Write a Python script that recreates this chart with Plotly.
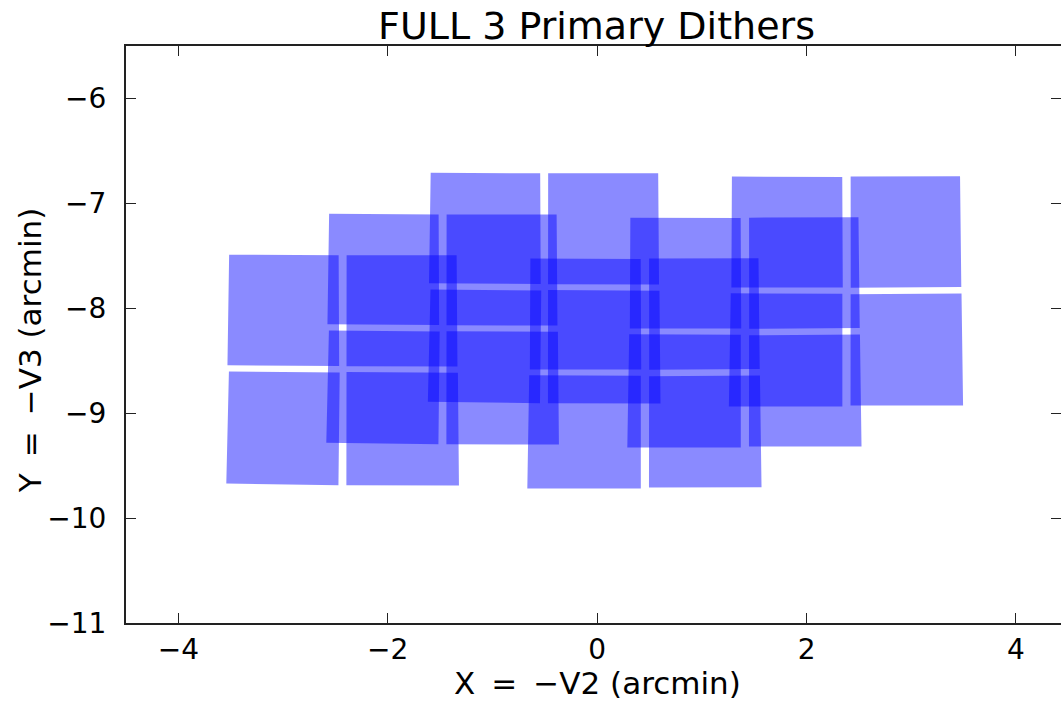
import plotly.graph_objects as go

# ---- data (arcmin) -------------------------------------------------------
# Detector footprints at the first primary dither position.
# Each detector: corners TL, TR, BR, BL (X = -V2, Y = -V3)
detectors = ["c1_top", "c1_bot", "c2_top", "c2_bot",
             "c3_top", "c3_bot", "c4_top", "c4_bot"]
corner_x = [
    [-3.515, -2.469, -2.464, -3.531],
    [-3.517, -2.459, -2.471, -3.542],
    [-2.393, -1.342, -1.334, -2.394],
    [-2.394, -1.330, -1.320, -2.395],
    [-0.638, 0.416, 0.421, -0.643],
    [-0.649, 0.417, 0.417, -0.667],
    [0.496, 1.541, 1.553, 0.497],
    [0.496, 1.555, 1.570, 0.495],
]
corner_y = [
    [-7.489, -7.495, -8.550, -8.543],
    [-8.603, -8.612, -9.686, -9.671],
    [-7.495, -7.495, -8.555, -8.552],
    [-8.608, -8.614, -9.689, -9.686],
    [-7.526, -7.530, -8.583, -8.583],
    [-8.638, -8.643, -9.717, -9.717],
    [-7.526, -7.522, -8.579, -8.586],
    [-8.648, -8.641, -9.707, -9.708],
]
# Primary dither offsets (arcmin)
dither_dx = [0.0, 0.955, 1.925]
dither_dy = [0.0, 0.390, 0.781]

x_ticks = [-4, -2, 0, 2, 4]
x_tick_labels = ["\u22124", "\u22122", "0", "2", "4"]
y_ticks = [-11, -10, -9, -8, -7, -6]
y_tick_labels = ["\u221211", "\u221210", "\u22129", "\u22128", "\u22127", "\u22126"]

title_text = "FULL 3 Primary Dithers"
x_label = "X \u2009=\u2009 \u2212V2 (arcmin)"
y_label = "Y \u2009=\u2009 \u2212V3 (arcmin)"

# ---- figure --------------------------------------------------------------
FONT = "DejaVu Sans"
fig = go.Figure()

for k in range(len(dither_dx)):
    xs, ys = [], []
    for cx, cy in zip(corner_x, corner_y):
        xs += [v + dither_dx[k] for v in cx] + [cx[0] + dither_dx[k], None]
        ys += [v + dither_dy[k] for v in cy] + [cy[0] + dither_dy[k], None]
    fig.add_trace(go.Scatter(
        x=xs, y=ys, mode="lines", fill="toself",
        fillcolor="rgba(0,0,255,0.46)", line=dict(width=0, color="rgba(0,0,255,0)"),
        hoverinfo="skip", showlegend=False, name=f"Dither {k+1}",
    ))

# dummy trace for right-side tick axis
fig.add_trace(go.Scatter(x=[None], y=[None], yaxis="y2", showlegend=False, hoverinfo="skip"))

W, H = 1061, 701
L, R, T, B = 126, 0, 46, 78
px_per_unit = 104.7
x_lo = -4.5
x_hi = x_lo + (W - L - R) / px_per_unit
y_range = [-11, -5.5]

fig.update_layout(
    width=W, height=H,
    margin=dict(l=L, r=R, t=T, b=B),
    plot_bgcolor="white", paper_bgcolor="white",
    font=dict(family=FONT, color="black"),
    xaxis=dict(
        range=[x_lo, x_hi], tickvals=x_ticks, ticktext=x_tick_labels,
        ticks="inside", ticklen=10, tickwidth=1.3, tickcolor="#222",
        showline=True, linewidth=2, linecolor="#222", mirror="ticks",
        showgrid=False, zeroline=False,
        tickfont=dict(family=FONT, size=28, color="black"),
        ticklabelstandoff=0,
    ),
    yaxis=dict(
        range=y_range, tickvals=y_ticks, ticktext=y_tick_labels,
        ticks="inside", ticklen=10, tickwidth=1.3, tickcolor="#222",
        showline=True, linewidth=2, linecolor="#222", mirror=False,
        showgrid=False, zeroline=False,
        tickfont=dict(family=FONT, size=28, color="black"),
        ticklabelstandoff=12,
    ),
    yaxis2=dict(
        range=y_range, tickvals=y_ticks, overlaying="y", side="right", anchor="x",
        ticks="inside", ticklen=10, tickwidth=1.3, tickcolor="#222",
        showline=False, showticklabels=False, showgrid=False, zeroline=False,
    ),
    title=dict(
        text=title_text, x=(596.5 - L) / (W - L - R), xref="paper", xanchor="center",
        y=1 - 26 / H, yref="container", yanchor="middle",
        font=dict(family=FONT, size=38, color="black"),
    ),
    annotations=[
        dict(text=x_label, xref="x", x=0, yref="paper", y=0, yshift=-60,
             xanchor="center", yanchor="middle", showarrow=False,
             font=dict(family=FONT, size=31, color="black")),
        dict(text=y_label, xref="paper", x=0, xshift=-(L - 30), yref="y", y=-8.4,
             xanchor="center", yanchor="middle", textangle=-90, showarrow=False,
             font=dict(family=FONT, size=31, color="black")),
    ],
)

fig.write_html(
    "out.html",
    config={"displayModeBar": False},
    post_script="document.body.style.margin='0px';document.body.style.overflow='hidden';",
)
